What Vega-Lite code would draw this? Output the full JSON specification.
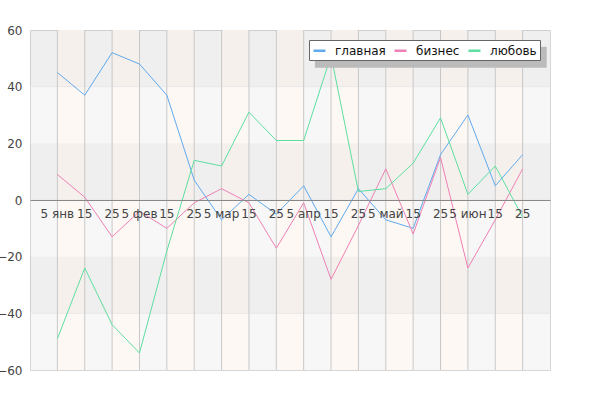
{
  "$schema": "https://vega.github.io/schema/vega-lite/v6.json",
  "autosize": "none",
  "width": 520,
  "height": 340,
  "padding": {"left": 30, "top": 30, "right": 50, "bottom": 30},
  "background": "#ffffff",
  "config": {
    "view": {"fill": "#f7f7f7", "stroke": "#d6d6d6", "strokeWidth": 1},
    "font": "DejaVu Sans",
    "legend": {
      "orient": "top-right",
      "offset": 10,
      "direction": "horizontal",
      "fillColor": "#ffffff",
      "strokeColor": "#666666",
      "padding": 3,
      "symbolType": "stroke",
      "symbolSize": 144,
      "symbolStrokeWidth": 2.5,
      "labelFont": "DejaVu Sans",
      "labelFontSize": 12,
      "labelColor": "#111111",
      "labelOffset": 8,
      "columnPadding": 3,
      "title": null
    }
  },
  "datasets": {
    "series": [
      {"i": 0, "s": "главная", "v": 45}, {"i": 1, "s": "главная", "v": 37}, {"i": 2, "s": "главная", "v": 52},
      {"i": 3, "s": "главная", "v": 48}, {"i": 4, "s": "главная", "v": 37}, {"i": 5, "s": "главная", "v": 7},
      {"i": 6, "s": "главная", "v": -7}, {"i": 7, "s": "главная", "v": 2}, {"i": 8, "s": "главная", "v": -5},
      {"i": 9, "s": "главная", "v": 5}, {"i": 10, "s": "главная", "v": -13}, {"i": 11, "s": "главная", "v": 4},
      {"i": 12, "s": "главная", "v": -7}, {"i": 13, "s": "главная", "v": -10}, {"i": 14, "s": "главная", "v": 16},
      {"i": 15, "s": "главная", "v": 30}, {"i": 16, "s": "главная", "v": 5}, {"i": 17, "s": "главная", "v": 16},
      {"i": 0, "s": "бизнес", "v": 9}, {"i": 1, "s": "бизнес", "v": 1}, {"i": 2, "s": "бизнес", "v": -13},
      {"i": 3, "s": "бизнес", "v": -4}, {"i": 4, "s": "бизнес", "v": -10}, {"i": 5, "s": "бизнес", "v": -1},
      {"i": 6, "s": "бизнес", "v": 4}, {"i": 7, "s": "бизнес", "v": -1}, {"i": 8, "s": "бизнес", "v": -17},
      {"i": 9, "s": "бизнес", "v": -1}, {"i": 10, "s": "бизнес", "v": -28}, {"i": 11, "s": "бизнес", "v": -9},
      {"i": 12, "s": "бизнес", "v": 11}, {"i": 13, "s": "бизнес", "v": -12}, {"i": 14, "s": "бизнес", "v": 15},
      {"i": 15, "s": "бизнес", "v": -24}, {"i": 16, "s": "бизнес", "v": -7}, {"i": 17, "s": "бизнес", "v": 11},
      {"i": 0, "s": "любовь", "v": -49}, {"i": 1, "s": "любовь", "v": -24}, {"i": 2, "s": "любовь", "v": -44},
      {"i": 3, "s": "любовь", "v": -54}, {"i": 4, "s": "любовь", "v": -18}, {"i": 5, "s": "любовь", "v": 14},
      {"i": 6, "s": "любовь", "v": 12}, {"i": 7, "s": "любовь", "v": 31}, {"i": 8, "s": "любовь", "v": 21},
      {"i": 9, "s": "любовь", "v": 21}, {"i": 10, "s": "любовь", "v": 51}, {"i": 11, "s": "любовь", "v": 3},
      {"i": 12, "s": "любовь", "v": 4}, {"i": 13, "s": "любовь", "v": 13}, {"i": 14, "s": "любовь", "v": 29},
      {"i": 15, "s": "любовь", "v": 2}, {"i": 16, "s": "любовь", "v": 12}, {"i": 17, "s": "любовь", "v": -6}
    ],
    "labels": [
      {"i": 0, "t": "5 янв"}, {"i": 1, "t": "15"}, {"i": 2, "t": "25"},
      {"i": 3, "t": "5 фев"}, {"i": 4, "t": "15"}, {"i": 5, "t": "25"},
      {"i": 6, "t": "5 мар"}, {"i": 7, "t": "15"}, {"i": 8, "t": "25"},
      {"i": 9, "t": "5 апр"}, {"i": 10, "t": "15"}, {"i": 11, "t": "25"},
      {"i": 12, "t": "5 май"}, {"i": 13, "t": "15"}, {"i": 14, "t": "25"},
      {"i": 15, "t": "5 июн"}, {"i": 16, "t": "15"}, {"i": 17, "t": "25"}
    ],
    "cols": [
      {"a": 0, "b": 1}, {"a": 2, "b": 3}, {"a": 4, "b": 5}, {"a": 6, "b": 7}, {"a": 8, "b": 9},
      {"a": 10, "b": 11}, {"a": 12, "b": 13}, {"a": 14, "b": 15}, {"a": 16, "b": 17}
    ],
    "bands": [
      {"y1": 60, "y2": 40}, {"y1": 20, "y2": 0}, {"y1": -20, "y2": -40}
    ],
    "shadow": [
      {"x1": 9.41, "x2": 17.88, "y1": 54.1, "y2": 46.7}
    ]
  },
  "layer": [
    {
      "data": {"name": "series"},
      "mark": {"type": "line", "strokeWidth": 1, "opacity": 0},
      "encoding": {
        "x": {
          "field": "i", "type": "quantitative",
          "scale": {"domain": [-1, 18], "nice": false, "zero": false},
          "axis": {
            "title": null,
            "zindex": 1,
            "offset": -170,
            "labels": false,
            "grid": false,
            "ticks": false,
            "domainColor": "#888888",
            "domainWidth": 1
          }
        },
        "y": {
          "field": "v", "type": "quantitative",
          "scale": {"domain": [-60, 60], "nice": false},
          "axis": {
            "title": null,
            "values": [-60, -40, -20, 0, 20, 40, 60],
            "grid": false,
            "ticks": false,
            "domain": false,
            "labelFont": "DejaVu Sans",
            "labelFontSize": 12,
            "labelColor": "#444444",
            "labelPadding": 8
          }
        },
        "color": {
          "field": "s", "type": "nominal",
          "scale": {"domain": ["главная", "бизнес", "любовь"], "range": ["#5faaee", "#ee80b4", "#5ddfa0"]},
          "legend": {"title": null}
        }
      }
    },
    {
      "data": {"name": "cols"},
      "mark": {"type": "rect", "fill": "#fef8f5"},
      "encoding": {
        "x": {"field": "a", "type": "quantitative", "title": null},
        "x2": {"field": "b"}
      }
    },
    {
      "data": {"name": "bands"},
      "mark": {"type": "rect", "fill": "#000000", "opacity": 0.03},
      "encoding": {
        "y": {"field": "y1", "type": "quantitative", "title": null},
        "y2": {"field": "y2"}
      }
    },
    {
      "data": {"name": "bands"},
      "mark": {"type": "rule", "stroke": "#e8e8e8", "strokeWidth": 1},
      "encoding": {
        "y": {"field": "y2", "type": "quantitative", "title": null}
      }
    },
    {
      "data": {"name": "series"},
      "transform": [{"filter": "datum.s === 'главная'"}],
      "mark": {"type": "rule", "stroke": "#c8c8c8", "strokeWidth": 1},
      "encoding": {
        "x": {"field": "i", "type": "quantitative", "title": null}
      }
    },
    {
      "data": {"name": "series"},
      "mark": {"type": "line", "strokeWidth": 1},
      "encoding": {
        "x": {"field": "i", "type": "quantitative", "title": null},
        "y": {"field": "v", "type": "quantitative", "title": null},
        "color": {"field": "s", "type": "nominal", "title": null}
      }
    },
    {
      "data": {"name": "labels"},
      "mark": {"type": "text", "font": "DejaVu Sans", "fontSize": 12, "fill": "#444444", "align": "center", "baseline": "alphabetic", "dy": 18},
      "encoding": {
        "x": {"field": "i", "type": "quantitative", "title": null},
        "y": {"datum": 0},
        "text": {"field": "t"}
      }
    },
    {
      "data": {"name": "shadow"},
      "mark": {"type": "rect", "fill": "#bbbbbb"},
      "encoding": {
        "x": {"field": "x1", "type": "quantitative", "title": null},
        "x2": {"field": "x2"},
        "y": {"field": "y1", "type": "quantitative", "title": null},
        "y2": {"field": "y2"}
      }
    }
  ]
}
